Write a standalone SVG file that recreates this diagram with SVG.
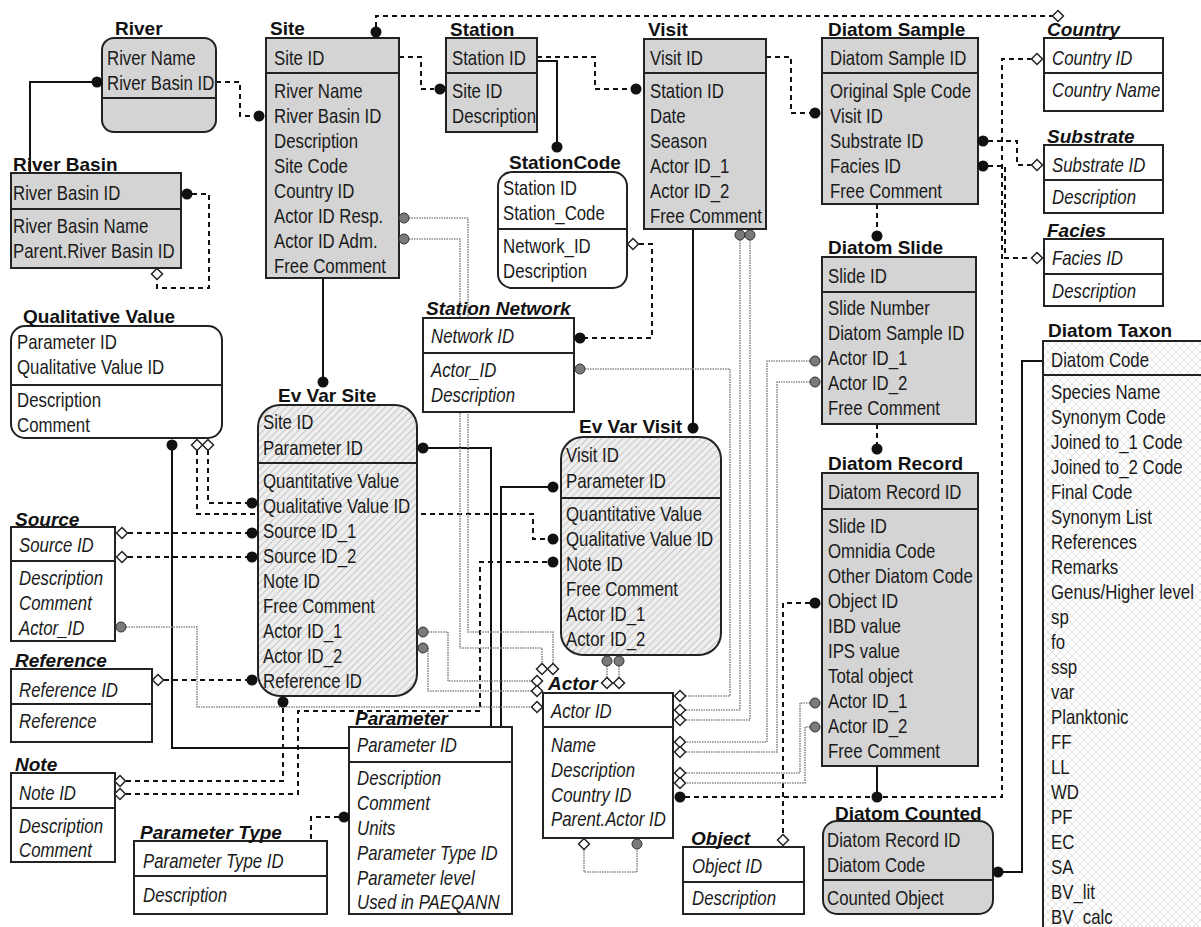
<svg xmlns="http://www.w3.org/2000/svg" xmlns:xlink="http://www.w3.org/1999/xlink" width="1201" height="927" viewBox="0 0 1201 927">
<style>
.t{font-family:"Liberation Sans",Arial,sans-serif;font-size:20.5px;fill:#1a1a1a}
.i{font-style:italic}
.h{font-family:"Liberation Sans",Arial,sans-serif;font-weight:bold;font-size:19px;fill:#111}
.hi{font-style:italic}
.box{stroke:#222;stroke-width:2}
.g{fill:#d4d4d4}
.w{fill:#fff}
.hx{fill:url(#hatch)}
.sep{stroke:#222;stroke-width:2}
.solid{stroke:#111;stroke-width:2;fill:none}
.dash{stroke:#111;stroke-width:2;stroke-dasharray:5 4;fill:none}
.gray{stroke:#888;stroke-width:1.6;stroke-dasharray:1.5 1;fill:none}
.dot{fill:#111}
.gdot{fill:#7a7a7a;stroke:#333;stroke-width:1}
.dmd{fill:#fff;stroke:#222;stroke-width:1.5}
</style>
<defs>
<pattern id="hatch" width="5" height="5" patternUnits="userSpaceOnUse" patternTransform="rotate(45)">
<rect width="5" height="5" fill="#eeeeee"/>
<line x1="0" y1="0" x2="0" y2="5" stroke="#ababab" stroke-width="1.2"/>
</pattern>
<pattern id="xhatch" width="8" height="8" patternUnits="userSpaceOnUse">
<rect width="8" height="8" fill="#fff"/>
<path d="M0,0 L8,8 M8,0 L0,8" stroke="#e3e3e3" stroke-width="1"/>
</pattern>
<path id="dm" class="dmd" d="M0,-5.5 L5.5,0 L0,5.5 L-5.5,0Z"/>
</defs>
<rect width="1201" height="927" fill="#fff"/>

<g id="connectors">
<path class="solid" d="M30,173 V82 H97"/>
<path class="dash" d="M192,194 H209 V288 H157 V279"/>
<path class="dash" d="M216,82 H240 V116 H253"/>
<path class="dash" d="M376,27 V16 H1052"/>
<path class="dash" d="M399,57 H421 V89 H434"/>
<path class="dash" d="M537,57 H595 V89 H630"/>
<path class="solid" d="M537,61 H557 V147"/>
<path class="dash" d="M639,244 H652 V338 H585"/>
<path class="dash" d="M766,57 H791 V113 H810"/>
<path class="solid" d="M693,229 V428"/>
<path class="dash" d="M877,204 V236"/>
<path class="dash" d="M988,141 H1017 V165 H1031"/>
<path class="dash" d="M988,166 H1005 V258 H1031"/>
<path class="dash" d="M685,797 H1002 V59 H1031"/>
<path class="dash" d="M877,424 V449"/>
<path class="solid" d="M877,766 V797"/>
<path class="solid" d="M1003,872 H1022 V361 H1043"/>
<path class="dash" d="M810,603 H783 V834"/>
<path class="solid" d="M323,278 V382"/>
<path class="solid" d="M428,448 H491 V727"/>
<path class="solid" d="M548,487 H501 V727"/>
<path class="solid" d="M172,450 V748 H349"/>
<path class="dash" d="M208,450 V503 H247"/>
<path class="dash" d="M197,450 V514 H533 V539 H548"/>
<path class="dash" d="M128,533 H247"/>
<path class="dash" d="M128,557 H247"/>
<path class="dash" d="M164,680 H247"/>
<path class="dash" d="M126,781 H283 V707"/>
<path class="dash" d="M126,794 H298 V711 H480 V562 H548"/>
<path class="dash" d="M339,817 H311 V841"/>
<path class="gray" d="M409,218 H468 V632 H553 V663"/>
<path class="gray" d="M409,239 H460 V648 H542 V663"/>
<path class="gray" d="M428,632 H448 V681 H531"/>
<path class="gray" d="M428,648 V691 H531"/>
<path class="gray" d="M126,627 H197 V707 H531"/>
<path class="gray" d="M607,666 V677"/>
<path class="gray" d="M619,666 V677"/>
<path class="gray" d="M585,369 H730 V696 H686"/>
<path class="gray" d="M740,240 V710 H686"/>
<path class="gray" d="M750,240 V720 H686"/>
<path class="gray" d="M810,361 H767 V742 H686"/>
<path class="gray" d="M810,382 H777 V752 H686"/>
<path class="gray" d="M810,703 H800 V773 H686"/>
<path class="gray" d="M810,727 H805 V783 H686"/>
<path class="gray" d="M584,850 V872 H637 V849"/>
</g>

<g id="river">
<rect class="box g" x="102" y="38" width="114" height="94" rx="12"/>
<line class="sep" x1="102" y1="98" x2="216" y2="98"/>
<text class="h" x="115" y="35">River</text>
<g transform="translate(107 0) scale(0.82 1)">
<text class="t" x="0" y="65">River Name</text>
<text class="t" x="0" y="90">River Basin ID</text>
</g>
</g>

<g id="site">
<rect class="box g" x="266" y="38" width="133" height="240"/>
<line class="sep" x1="266" y1="73" x2="399" y2="73"/>
<text class="h" x="270" y="35">Site</text>
<g transform="translate(274 0) scale(0.82 1)">
<text class="t" x="0" y="65">Site ID</text>
<text class="t" x="0" y="98">River Name</text>
<text class="t" x="0" y="123">River Basin ID</text>
<text class="t" x="0" y="148">Description</text>
<text class="t" x="0" y="173">Site Code</text>
<text class="t" x="0" y="198">Country ID</text>
<text class="t" x="0" y="223">Actor ID Resp.</text>
<text class="t" x="0" y="248">Actor ID Adm.</text>
<text class="t" x="0" y="273">Free Comment</text>
</g>
</g>

<g id="station">
<rect class="box g" x="446" y="38" width="91" height="94"/>
<line class="sep" x1="446" y1="73" x2="537" y2="73"/>
<text class="h" x="450" y="36">Station</text>
<g transform="translate(452 0) scale(0.82 1)">
<text class="t" x="0" y="65">Station ID</text>
<text class="t" x="0" y="98">Site ID</text>
<text class="t" x="0" y="123">Description</text>
</g>
</g>

<g id="visit">
<rect class="box g" x="644" y="39" width="122" height="190"/>
<line class="sep" x1="644" y1="73" x2="766" y2="73"/>
<text class="h" x="648" y="36">Visit</text>
<g transform="translate(650 0) scale(0.82 1)">
<text class="t" x="0" y="65">Visit ID</text>
<text class="t" x="0" y="98">Station ID</text>
<text class="t" x="0" y="123">Date</text>
<text class="t" x="0" y="148">Season</text>
<text class="t" x="0" y="173">Actor ID_1</text>
<text class="t" x="0" y="198">Actor ID_2</text>
<text class="t" x="0" y="223">Free Comment</text>
</g>
</g>

<g id="diatom-sample">
<rect class="box g" x="822" y="38" width="156" height="166"/>
<line class="sep" x1="822" y1="73" x2="978" y2="73"/>
<text class="h" x="828" y="36">Diatom Sample</text>
<g transform="translate(830 0) scale(0.82 1)">
<text class="t" x="0" y="65">Diatom Sample ID</text>
<text class="t" x="0" y="98">Original Sple Code</text>
<text class="t" x="0" y="123">Visit ID</text>
<text class="t" x="0" y="148">Substrate ID</text>
<text class="t" x="0" y="173">Facies ID</text>
<text class="t" x="0" y="198">Free Comment</text>
</g>
</g>

<g id="country">
<rect class="box w" x="1044" y="38" width="119" height="73"/>
<line class="sep" x1="1044" y1="73" x2="1163" y2="73"/>
<text class="h hi" x="1047" y="36">Country</text>
<g transform="translate(1052 0) scale(0.82 1)">
<text class="t i" x="0" y="65">Country ID</text>
<text class="t i" x="0" y="97">Country Name</text>
</g>
</g>

<g id="substrate">
<rect class="box w" x="1044" y="145" width="119" height="68"/>
<line class="sep" x1="1044" y1="180" x2="1163" y2="180"/>
<text class="h hi" x="1047" y="143">Substrate</text>
<g transform="translate(1052 0) scale(0.82 1)">
<text class="t i" x="0" y="172">Substrate ID</text>
<text class="t i" x="0" y="204">Description</text>
</g>
</g>

<g id="facies">
<rect class="box w" x="1044" y="239" width="119" height="67"/>
<line class="sep" x1="1044" y1="274" x2="1163" y2="274"/>
<text class="h hi" x="1047" y="237">Facies</text>
<g transform="translate(1052 0) scale(0.82 1)">
<text class="t i" x="0" y="265">Facies ID</text>
<text class="t i" x="0" y="298">Description</text>
</g>
</g>

<g id="river-basin">
<rect class="box g" x="11" y="173" width="170" height="95"/>
<line class="sep" x1="11" y1="209" x2="181" y2="209"/>
<text class="h" x="13" y="171">River Basin</text>
<g transform="translate(13 0) scale(0.82 1)">
<text class="t" x="0" y="200">River Basin ID</text>
<text class="t" x="0" y="233">River Basin Name</text>
<text class="t" x="0" y="258">Parent.River Basin ID</text>
</g>
</g>

<g id="station-code">
<rect class="box w" x="498" y="172" width="129" height="116" rx="14"/>
<line class="sep" x1="498" y1="229" x2="627" y2="229"/>
<text class="h" x="509" y="169">StationCode</text>
<g transform="translate(503 0) scale(0.82 1)">
<text class="t" x="0" y="195">Station ID</text>
<text class="t" x="0" y="220">Station_Code</text>
<text class="t" x="0" y="253">Network_ID</text>
<text class="t" x="0" y="278">Description</text>
</g>
</g>

<g id="diatom-slide">
<rect class="box g" x="822" y="257" width="154" height="167"/>
<line class="sep" x1="822" y1="292" x2="976" y2="292"/>
<text class="h" x="828" y="254">Diatom Slide</text>
<g transform="translate(828 0) scale(0.82 1)">
<text class="t" x="0" y="283">Slide ID</text>
<text class="t" x="0" y="315">Slide Number</text>
<text class="t" x="0" y="340">Diatom Sample ID</text>
<text class="t" x="0" y="365">Actor ID_1</text>
<text class="t" x="0" y="390">Actor ID_2</text>
<text class="t" x="0" y="415">Free Comment</text>
</g>
</g>

<g id="qualitative-value">
<rect class="box w" x="11" y="326" width="211" height="112" rx="14"/>
<line class="sep" x1="11" y1="385" x2="222" y2="385"/>
<text class="h" x="23" y="323">Qualitative Value</text>
<g transform="translate(17 0) scale(0.82 1)">
<text class="t" x="0" y="349">Parameter ID</text>
<text class="t" x="0" y="374">Qualitative Value ID</text>
<text class="t" x="0" y="407">Description</text>
<text class="t" x="0" y="432">Comment</text>
</g>
</g>

<g id="station-network">
<rect class="box w" x="423" y="318" width="151" height="94"/>
<line class="sep" x1="423" y1="353" x2="574" y2="353"/>
<text class="h hi" x="426" y="315">Station Network</text>
<g transform="translate(431 0) scale(0.82 1)">
<text class="t i" x="0" y="343">Network ID</text>
<text class="t i" x="0" y="377">Actor_ID</text>
<text class="t i" x="0" y="402">Description</text>
</g>
</g>

<g id="diatom-taxon">
<rect class="box" fill="url(#xhatch)" x="1043" y="341" width="170" height="600"/>
<line class="sep" x1="1043" y1="375" x2="1201" y2="375"/>
<text class="h" x="1048" y="337">Diatom Taxon</text>
<g transform="translate(1051 0) scale(0.82 1)">
<text class="t" x="0" y="367">Diatom Code</text>
<text class="t" x="0" y="399">Species Name</text>
<text class="t" x="0" y="424">Synonym Code</text>
<text class="t" x="0" y="449">Joined to_1 Code</text>
<text class="t" x="0" y="474">Joined to_2 Code</text>
<text class="t" x="0" y="499">Final Code</text>
<text class="t" x="0" y="524">Synonym List</text>
<text class="t" x="0" y="549">References</text>
<text class="t" x="0" y="574">Remarks</text>
<text class="t" x="0" y="599">Genus/Higher level</text>
<text class="t" x="0" y="624">sp</text>
<text class="t" x="0" y="649">fo</text>
<text class="t" x="0" y="674">ssp</text>
<text class="t" x="0" y="699">var</text>
<text class="t" x="0" y="724">Planktonic</text>
<text class="t" x="0" y="749">FF</text>
<text class="t" x="0" y="774">LL</text>
<text class="t" x="0" y="799">WD</text>
<text class="t" x="0" y="824">PF</text>
<text class="t" x="0" y="849">EC</text>
<text class="t" x="0" y="874">SA</text>
<text class="t" x="0" y="899">BV_lit</text>
<text class="t" x="0" y="924">BV_calc</text>
</g>
</g>

<g id="ev-var-site">
<rect class="box hx" x="258" y="405" width="159" height="291" rx="22"/>
<line class="sep" x1="258" y1="463" x2="417" y2="463"/>
<text class="h" x="278" y="402">Ev Var Site</text>
<g transform="translate(263 0) scale(0.82 1)">
<text class="t" x="0" y="429">Site ID</text>
<text class="t" x="0" y="455">Parameter ID</text>
<text class="t" x="0" y="488">Quantitative Value</text>
<text class="t" x="0" y="513">Qualitative Value ID</text>
<text class="t" x="0" y="538">Source ID_1</text>
<text class="t" x="0" y="563">Source ID_2</text>
<text class="t" x="0" y="588">Note ID</text>
<text class="t" x="0" y="613">Free Comment</text>
<text class="t" x="0" y="638">Actor ID_1</text>
<text class="t" x="0" y="663">Actor ID_2</text>
<text class="t" x="0" y="688">Reference ID</text>
</g>
</g>

<g id="ev-var-visit">
<rect class="box hx" x="561" y="437" width="160" height="218" rx="22"/>
<line class="sep" x1="561" y1="498" x2="721" y2="498"/>
<text class="h" x="579" y="433">Ev Var Visit</text>
<g transform="translate(566 0) scale(0.82 1)">
<text class="t" x="0" y="462">Visit ID</text>
<text class="t" x="0" y="488">Parameter ID</text>
<text class="t" x="0" y="521">Quantitative Value</text>
<text class="t" x="0" y="546">Qualitative Value ID</text>
<text class="t" x="0" y="571">Note ID</text>
<text class="t" x="0" y="596">Free Comment</text>
<text class="t" x="0" y="621">Actor ID_1</text>
<text class="t" x="0" y="646">Actor ID_2</text>
</g>
</g>

<g id="diatom-record">
<rect class="box g" x="822" y="473" width="156" height="293"/>
<line class="sep" x1="822" y1="509" x2="978" y2="509"/>
<text class="h" x="828" y="470">Diatom Record</text>
<g transform="translate(828 0) scale(0.82 1)">
<text class="t" x="0" y="499">Diatom Record ID</text>
<text class="t" x="0" y="533">Slide ID</text>
<text class="t" x="0" y="558">Omnidia Code</text>
<text class="t" x="0" y="583">Other Diatom Code</text>
<text class="t" x="0" y="608">Object ID</text>
<text class="t" x="0" y="633">IBD value</text>
<text class="t" x="0" y="658">IPS value</text>
<text class="t" x="0" y="683">Total object</text>
<text class="t" x="0" y="708">Actor ID_1</text>
<text class="t" x="0" y="733">Actor ID_2</text>
<text class="t" x="0" y="758">Free Comment</text>
</g>
</g>

<g id="source">
<rect class="box w" x="11" y="527" width="104" height="114"/>
<line class="sep" x1="11" y1="561" x2="115" y2="561"/>
<text class="h hi" x="15" y="526">Source</text>
<g transform="translate(19 0) scale(0.82 1)">
<text class="t i" x="0" y="552">Source ID</text>
<text class="t i" x="0" y="585">Description</text>
<text class="t i" x="0" y="610">Comment</text>
<text class="t i" x="0" y="635">Actor_ID</text>
</g>
</g>

<g id="reference">
<rect class="box w" x="11" y="669" width="141" height="73"/>
<line class="sep" x1="11" y1="704" x2="152" y2="704"/>
<text class="h hi" x="15" y="667">Reference</text>
<g transform="translate(19 0) scale(0.82 1)">
<text class="t i" x="0" y="697">Reference ID</text>
<text class="t i" x="0" y="728">Reference</text>
</g>
</g>

<g id="note">
<rect class="box w" x="11" y="773" width="104" height="89"/>
<line class="sep" x1="11" y1="808" x2="115" y2="808"/>
<text class="h hi" x="15" y="771">Note</text>
<g transform="translate(19 0) scale(0.82 1)">
<text class="t i" x="0" y="800">Note ID</text>
<text class="t i" x="0" y="833">Description</text>
<text class="t i" x="0" y="857">Comment</text>
</g>
</g>

<g id="actor">
<rect class="box w" x="543" y="693" width="130" height="145"/>
<line class="sep" x1="543" y1="727" x2="673" y2="727"/>
<text class="h hi" x="548" y="690">Actor</text>
<g transform="translate(551 0) scale(0.82 1)">
<text class="t i" x="0" y="718">Actor ID</text>
<text class="t i" x="0" y="752">Name</text>
<text class="t i" x="0" y="777">Description</text>
<text class="t i" x="0" y="802">Country ID</text>
<text class="t i" x="0" y="826">Parent.Actor ID</text>
</g>
</g>

<g id="parameter">
<rect class="box w" x="349" y="727" width="163" height="187"/>
<line class="sep" x1="349" y1="762" x2="512" y2="762"/>
<text class="h hi" x="355" y="725">Parameter</text>
<g transform="translate(357 0) scale(0.82 1)">
<text class="t i" x="0" y="752">Parameter ID</text>
<text class="t i" x="0" y="785">Description</text>
<text class="t i" x="0" y="810">Comment</text>
<text class="t i" x="0" y="835">Units</text>
<text class="t i" x="0" y="860">Parameter Type ID</text>
<text class="t i" x="0" y="885">Parameter level</text>
<text class="t i" x="0" y="909">Used in PAEQANN</text>
</g>
</g>

<g id="parameter-type">
<rect class="box w" x="134" y="841" width="193" height="73"/>
<line class="sep" x1="134" y1="876" x2="327" y2="876"/>
<text class="h hi" x="140" y="839">Parameter Type</text>
<g transform="translate(143 0) scale(0.82 1)">
<text class="t i" x="0" y="868">Parameter Type ID</text>
<text class="t i" x="0" y="902">Description</text>
</g>
</g>

<g id="object">
<rect class="box w" x="683" y="847" width="121" height="67"/>
<line class="sep" x1="683" y1="882" x2="804" y2="882"/>
<text class="h hi" x="691" y="845">Object</text>
<g transform="translate(692 0) scale(0.82 1)">
<text class="t i" x="0" y="873">Object ID</text>
<text class="t i" x="0" y="905">Description</text>
</g>
</g>

<g id="diatom-counted">
<rect class="box g" x="823" y="821" width="170" height="93" rx="14"/>
<line class="sep" x1="823" y1="880" x2="993" y2="880"/>
<text class="h" x="835" y="820">Diatom Counted</text>
<g transform="translate(827 0) scale(0.82 1)">
<text class="t" x="0" y="847">Diatom Record ID</text>
<text class="t" x="0" y="872">Diatom Code</text>
<text class="t" x="0" y="905">Counted Object</text>
</g>
</g>

<g id="connector-ends">
<circle class="dot" cx="97" cy="82" r="5.5"/>
<circle class="dot" cx="187" cy="194" r="5.5"/>
<use xlink:href="#dm" x="157" y="274"/>
<circle class="dot" cx="259" cy="116" r="5.5"/>
<circle class="dot" cx="376" cy="32" r="5.5"/>
<use xlink:href="#dm" x="1058" y="16"/>
<circle class="dot" cx="440" cy="89" r="5.5"/>
<circle class="dot" cx="636" cy="89" r="5.5"/>
<circle class="dot" cx="557" cy="147" r="5.5"/>
<use xlink:href="#dm" x="633" y="244"/>
<circle class="dot" cx="580" cy="338" r="5.5"/>
<circle class="dot" cx="815" cy="113" r="5.5"/>
<circle class="dot" cx="693" cy="428" r="5.5"/>
<circle class="dot" cx="877" cy="236" r="5.5"/>
<circle class="dot" cx="983" cy="141" r="5.5"/>
<use xlink:href="#dm" x="1037" y="165"/>
<circle class="dot" cx="983" cy="166" r="5.5"/>
<use xlink:href="#dm" x="1037" y="258"/>
<circle class="dot" cx="680" cy="797" r="5.5"/>
<use xlink:href="#dm" x="1037" y="59"/>
<circle class="dot" cx="877" cy="449" r="5.5"/>
<circle class="dot" cx="877" cy="797" r="5.5"/>
<circle class="dot" cx="998" cy="872" r="5.5"/>
<circle class="dot" cx="815" cy="603" r="5.5"/>
<use xlink:href="#dm" x="783" y="840"/>
<circle class="dot" cx="323" cy="382" r="5.5"/>
<circle class="dot" cx="423" cy="448" r="5.5"/>
<circle class="dot" cx="553" cy="487" r="5.5"/>
<circle class="dot" cx="172" cy="445" r="5.5"/>
<use xlink:href="#dm" x="197" y="445"/>
<use xlink:href="#dm" x="208" y="445"/>
<circle class="dot" cx="252" cy="503" r="5.5"/>
<circle class="dot" cx="553" cy="539" r="5.5"/>
<use xlink:href="#dm" x="122" y="533"/>
<circle class="dot" cx="252" cy="533" r="5.5"/>
<use xlink:href="#dm" x="122" y="557"/>
<circle class="dot" cx="252" cy="557" r="5.5"/>
<use xlink:href="#dm" x="158" y="680"/>
<circle class="dot" cx="252" cy="680" r="5.5"/>
<use xlink:href="#dm" x="120" y="781"/>
<circle class="dot" cx="283" cy="702" r="5.5"/>
<use xlink:href="#dm" x="120" y="794"/>
<circle class="dot" cx="553" cy="562" r="5.5"/>
<circle class="dot" cx="344" cy="817" r="5.5"/>
<circle class="gdot" cx="404" cy="218" r="5"/>
<circle class="gdot" cx="404" cy="239" r="5"/>
<use xlink:href="#dm" x="553" y="669"/>
<use xlink:href="#dm" x="542" y="669"/>
<circle class="gdot" cx="423" cy="632" r="5"/>
<circle class="gdot" cx="423" cy="648" r="5"/>
<use xlink:href="#dm" x="537" y="681"/>
<use xlink:href="#dm" x="537" y="691"/>
<circle class="gdot" cx="121" cy="627" r="5"/>
<use xlink:href="#dm" x="537" y="707"/>
<circle class="gdot" cx="607" cy="661" r="5"/>
<circle class="gdot" cx="619" cy="661" r="5"/>
<use xlink:href="#dm" x="607" y="683"/>
<use xlink:href="#dm" x="619" y="683"/>
<circle class="gdot" cx="580" cy="369" r="5"/>
<use xlink:href="#dm" x="680" y="696"/>
<circle class="gdot" cx="740" cy="235" r="5"/>
<circle class="gdot" cx="750" cy="235" r="5"/>
<use xlink:href="#dm" x="680" y="710"/>
<use xlink:href="#dm" x="680" y="720"/>
<circle class="gdot" cx="815" cy="361" r="5"/>
<circle class="gdot" cx="815" cy="382" r="5"/>
<use xlink:href="#dm" x="680" y="742"/>
<use xlink:href="#dm" x="680" y="752"/>
<circle class="gdot" cx="815" cy="703" r="5"/>
<circle class="gdot" cx="815" cy="727" r="5"/>
<use xlink:href="#dm" x="680" y="773"/>
<use xlink:href="#dm" x="680" y="783"/>
<use xlink:href="#dm" x="584" y="844"/>
<circle class="gdot" cx="637" cy="844" r="5"/>
</g>
</svg>
